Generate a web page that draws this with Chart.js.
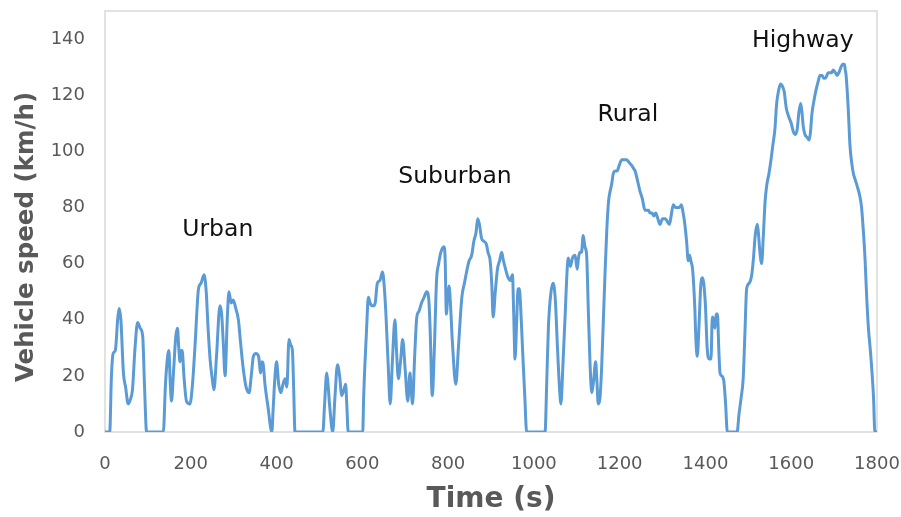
<!DOCTYPE html>
<html>
<head>
<meta charset="utf-8">
<script src="https://cdn.jsdelivr.net/npm/chart.js@4.4.0/dist/chart.umd.min.js"></script>
<style>
  html, body { margin: 0; padding: 0; background: #ffffff; }
  #wrap { width: 901px; height: 517px; }
</style>
</head>
<body>
<div id="wrap"><canvas id="cycleChart" width="901" height="517"></canvas></div>
<script>
// time (s) and speed (km/h)
const timeS = [
  0, 11, 15, 19, 24, 30, 33, 37, 43, 48, 54, 60, 64, 70, 76, 82, 88, 92, 97,
  136, 141, 146, 149, 152, 155, 160, 165, 169, 172, 175, 178, 180, 184, 190, 198,
  204, 210, 218, 224, 231, 236, 240, 245, 250, 254, 260, 268, 272, 276, 280, 285,
  289, 294, 299, 305, 311, 316, 322, 329, 336, 341, 346, 352, 358, 363, 366, 369,
  373, 380, 389, 392, 396, 400, 405, 410, 415, 420, 424, 429, 433, 437, 440, 443,
  508, 512, 517, 520, 524, 531, 536, 542, 547, 552, 557, 561, 564, 567,
  601, 603, 606, 610, 614, 618, 622, 626, 630, 635, 641, 647, 651, 655, 660, 665,
  670, 676, 680, 684, 689, 694, 700, 706, 711, 714, 717, 722, 727, 732, 738, 744,
  750, 755, 758, 763, 768, 773, 778, 783, 790, 793, 796, 799, 802, 805, 810, 818,
  824, 832, 838, 843, 849, 855, 860, 865, 869, 873, 878, 883, 889, 893, 898, 902,
  905, 910, 915, 920, 925, 929, 934, 940, 945, 950, 953, 956, 960, 963, 966, 969,
  974, 979, 983,
  1026, 1030, 1034, 1040, 1045, 1050, 1055, 1060, 1063, 1068, 1073, 1076, 1080, 1085,
  1090, 1096, 1101, 1104, 1107, 1111, 1115, 1119, 1123, 1127, 1131, 1135, 1139, 1144,
  1147, 1150, 1154, 1158, 1162, 1166, 1170, 1174, 1178, 1181, 1185, 1190, 1194, 1199,
  1205, 1211, 1216, 1222, 1228, 1232, 1236, 1241, 1247, 1253, 1259, 1263, 1267, 1271,
  1275, 1280, 1284, 1289, 1294, 1300, 1306, 1311, 1316, 1320, 1325, 1330, 1334, 1339,
  1344, 1348, 1352, 1356, 1360, 1363, 1366, 1370, 1375, 1378, 1381, 1385, 1389, 1393,
  1396, 1400, 1404, 1409, 1413, 1416, 1419, 1422, 1425, 1428, 1431, 1434, 1438, 1443,
  1447, 1451,
  1474, 1478, 1483, 1488, 1492, 1496, 1502, 1508, 1512, 1516, 1521, 1524, 1527, 1531,
  1535, 1539, 1543, 1548, 1552, 1557, 1562, 1566, 1571, 1575, 1580, 1584, 1587, 1589,
  1595, 1600, 1605, 1610, 1614, 1618, 1622, 1625, 1628, 1632, 1637, 1642, 1645, 1648,
  1653, 1658, 1663, 1667, 1672, 1676, 1679, 1683, 1686, 1690, 1694, 1698, 1703, 1707,
  1711, 1716, 1720, 1724, 1726, 1728, 1733, 1737, 1741, 1745, 1749, 1755, 1760, 1764,
  1768, 1772, 1776, 1780, 1784, 1788, 1792, 1795, 1800
];
const speedKmh = [
  0, 0, 20, 28, 29, 41, 44, 40, 21, 16, 10, 12, 15, 30, 39, 37, 34, 17, 0,
  0, 17, 27, 29, 18, 11, 22, 34, 37, 30, 25, 29, 29, 20, 11, 10,
  17, 31, 51, 53, 56, 50, 38, 26, 19, 15, 27, 45, 42, 31, 20, 40,
  50, 46, 47, 44, 40, 32, 23, 16, 14, 20, 27, 28, 27, 21, 25, 24,
  17, 9, 0, 8, 19, 25, 17, 14, 17, 19, 16, 33, 31, 29, 15, 0,
  0, 10, 21, 17, 9, 0, 12, 24, 20, 13, 15, 17, 9, 0,
  0, 12, 24, 37, 48, 46, 45, 45, 46, 53, 54, 57, 52, 42, 25, 10,
  25, 40, 28, 19, 25, 33, 22, 11, 21, 15, 10, 27, 41, 43, 46, 48,
  50, 47, 37, 13, 30, 54, 60, 64, 66, 62, 42, 48, 52, 47, 32, 17,
  30, 48, 53, 57, 61, 63, 68, 71, 76, 74, 69, 68, 67, 64, 61, 52,
  41, 50, 58, 61, 64, 61, 58, 55, 54, 56, 42, 26, 40, 51, 51, 45,
  28, 12, 0,
  0, 18, 38, 50, 53, 47, 30, 15, 10, 25, 42, 53, 62, 59,
  62, 63, 58, 62, 64, 64, 70, 66, 63, 43, 24, 14, 18, 25,
  18, 10, 12, 23, 40, 57, 72, 82, 86, 88, 92, 93, 93, 95,
  97, 97, 97, 96, 95, 94, 93, 90, 86, 83, 79, 79, 79, 78,
  78, 77, 78, 76, 74, 76, 76, 75, 74, 77, 81, 80, 80, 80,
  81, 78, 74, 68, 61, 63, 61, 58, 45, 32, 27, 38, 52, 55,
  53, 45, 30, 26, 26, 41, 40, 37, 42, 42, 30, 21, 20, 18,
  10, 0,
  0, 6, 12, 19, 35, 51, 53, 56, 62, 70, 74, 70, 64, 60,
  70, 82, 88, 92, 96, 102, 108, 117, 122, 124, 123, 121, 117, 115,
  112, 110, 107, 106, 108, 114, 117, 114, 109, 106, 105, 104, 107, 113,
  118, 122, 125, 127, 127, 126, 126, 127, 128, 128, 128, 129, 128, 127,
  128, 130, 131, 131, 129, 127, 115, 102, 96, 92, 90, 87, 84, 80,
  72, 62, 48, 37, 30, 22, 12, 0, 0
];
const xTicks = [0, 200, 400, 600, 800, 1000, 1200, 1400, 1600, 1800];
const yTicks = [0, 20, 40, 60, 80, 100, 120, 140];
const phaseNames = ["Urban", "Suburban", "Rural", "Highway"];
const phaseTime = [263, 816, 1219, 1627];
const phaseSpeed = [72, 91, 113, 139.5];

const points = timeS.map((t, i) => ({ x: t, y: speedKmh[i] }));

const tickColor = "#595959";

// light gray frame round the plot area
const frame = {
  id: "frame",
  beforeDatasetsDraw(chart) {
    const a = chart.chartArea;
    const c = chart.ctx;
    c.save();
    c.strokeStyle = "#d9d9d9";
    c.lineWidth = 1.5;
    c.strokeRect(a.left, a.top, a.right - a.left, a.bottom - a.top);
    c.restore();
  }
};

// phase names placed in data units
const phaseLabels = {
  id: "phaseLabels",
  afterDatasetsDraw(chart) {
    const c = chart.ctx;
    const xs = chart.scales.x, ys = chart.scales.y;
    c.save();
    c.font = "23.5px 'DejaVu Sans'";
    c.fillStyle = "#111111";
    c.textAlign = "center";
    c.textBaseline = "middle";
    phaseNames.forEach((name, i) => {
      c.fillText(name, xs.getPixelForValue(phaseTime[i]), ys.getPixelForValue(phaseSpeed[i]));
    });
    c.restore();
  }
};

// y title sits a little below the middle of the axis in the original
const yTitle = {
  id: "yTitle",
  afterDraw(chart) {
    const c = chart.ctx;
    c.save();
    c.translate(27, 237);
    c.rotate(-Math.PI / 2);
    c.font = "bold 24.5px 'DejaVu Sans'";
    c.fillStyle = tickColor;
    c.textAlign = "center";
    c.textBaseline = "middle";
    c.fillText("Vehicle speed (km/h)", 0, 0);
    c.restore();
  }
};

new Chart(document.getElementById("cycleChart"), {
  type: "line",
  data: {
    datasets: [{
      data: points,
      borderColor: "#5b9bd5",
      borderWidth: 3,
      pointRadius: 0,
      fill: false,
      cubicInterpolationMode: "monotone"
    }]
  },
  options: {
    responsive: false,
    animation: false,
    events: [],
    layout: { padding: { top: 11, right: 24, left: 0, bottom: 0 } },
    plugins: { legend: { display: false }, tooltip: { enabled: false } },
    scales: {
      x: {
        type: "linear",
        min: 0,
        max: 1800,
        afterBuildTicks: (s) => { s.ticks = xTicks.map((v) => ({ value: v })); },
        afterFit: (s) => { s.height = 85; s.paddingLeft = 0; s.paddingRight = 0; },
        grid: { display: false, drawTicks: false },
        border: { display: false },
        ticks: {
          padding: 22, color: tickColor, maxRotation: 0,
          font: { family: "DejaVu Sans", size: 18 },
          callback: (v) => String(v)
        },
        title: {
          display: true,
          text: "Time (s)",
          color: tickColor,
          font: { family: "DejaVu Sans", size: 28, weight: "bold" },
          padding: { top: 0, bottom: 0 }
        }
      },
      y: {
        min: 0,
        max: 150,
        afterBuildTicks: (s) => { s.ticks = yTicks.map((v) => ({ value: v })); },
        afterFit: (s) => { s.width = 105; s.paddingTop = 0; s.paddingBottom = 0; },
        grid: { display: false, drawTicks: false },
        border: { display: false },
        ticks: {
          padding: 20, color: tickColor,
          font: { family: "DejaVu Sans", size: 18 },
          callback: (v) => String(v)
        }
      }
    }
  },
  plugins: [frame, phaseLabels, yTitle]
});
</script>
</body>
</html>
